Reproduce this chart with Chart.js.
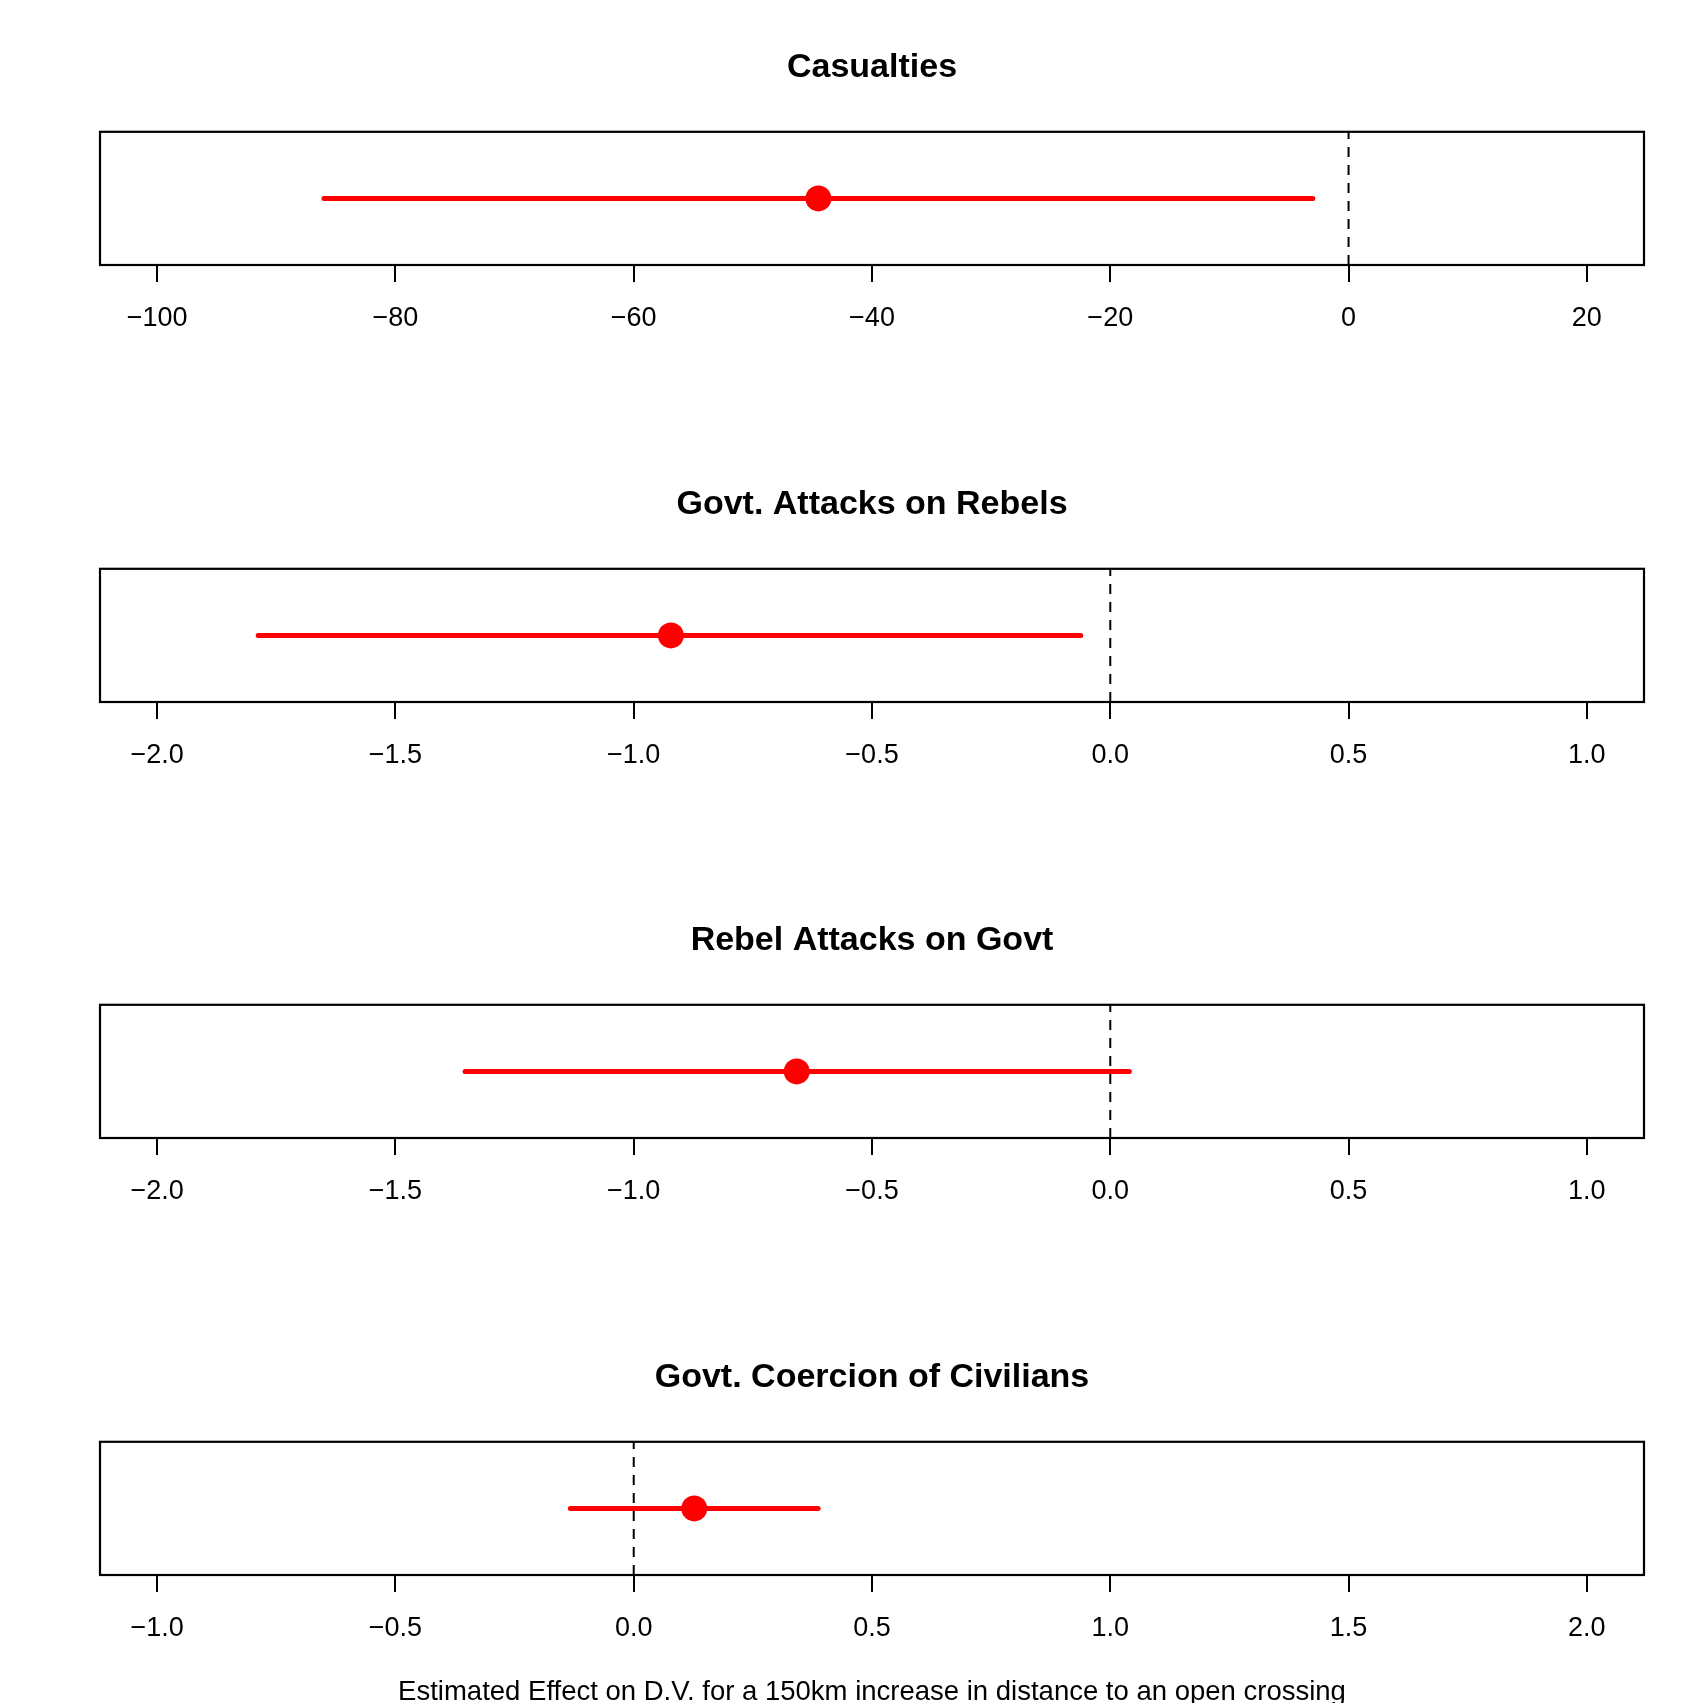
<!DOCTYPE html>
<html>
<head>
<meta charset="utf-8">
<script src="https://cdn.jsdelivr.net/npm/chart.js@4"></script>
<style>
  html, body { margin: 0; padding: 0; background: #fff; overflow: hidden; }
  body { width: 1694px; height: 1703px; position: relative; }
  canvas { position: absolute; left: 0; }
</style>
</head>
<body>
<canvas id="c0" width="1694" height="437" style="top:0px"></canvas>
<canvas id="c1" width="1694" height="437" style="top:437px"></canvas>
<canvas id="c2" width="1694" height="437" style="top:873px"></canvas>
<canvas id="c3" width="1694" height="437" style="top:1310px"></canvas>
<script>
// one panel per outcome
var panelTitles = ['Casualties', 'Govt. Attacks on Rebels', 'Rebel Attacks on Govt', 'Govt. Coercion of Civilians'];
var estimates = [-44.5, -0.922, -0.658, 0.127];
var lowerBounds = [-86.0, -1.788, -1.354, -0.133];
var upperBounds = [-3.0, -0.062, 0.040, 0.387];
var refValues = [0, 0, 0, 0];
var tickValues = [
    [-100, -80, -60, -40, -20, 0, 20],
    [-2.0, -1.5, -1.0, -0.5, 0.0, 0.5, 1.0],
    [-2.0, -1.5, -1.0, -0.5, 0.0, 0.5, 1.0],
    [-1.0, -0.5, 0.0, 0.5, 1.0, 1.5, 2.0]
];
var tickDecimals = [0, 1, 1, 1];
var axisMin = [-104.8, -2.12, -2.12, -1.12];
var axisMax = [24.8, 1.12, 1.12, 2.12];
var xLabel = 'Estimated Effect on D.V. for a 150km increase in distance to an open crossing';

var FONT = "'Liberation Sans', Arial, sans-serif";
var H = 437;
var BOX_BOTTOM = 265;

var boxPlugin = {
    id: 'box',
    afterDatasetsDraw: function (chart) {
        var a = chart.chartArea;
        var ctx = chart.ctx;
        ctx.save();
        ctx.strokeStyle = '#000';
        ctx.lineWidth = 2.2;
        ctx.strokeRect(a.left, a.top, a.right - a.left, a.bottom - a.top);
        ctx.restore();
    }
};

function fmt(v, d) {
    var s = Math.abs(v).toFixed(d);
    return v < -1e-9 ? '\u2212' + s : s;
}

function makePanel(i) {
    var last = (i == panelTitles.length - 1);
    var ctx = document.getElementById('c' + i).getContext('2d');
    return new Chart(ctx, {
        type: 'scatter',
        data: {
            datasets: [{
                type: 'line',
                data: [{x: refValues[i], y: 0}, {x: refValues[i], y: 2}],
                borderColor: '#000',
                borderWidth: 2,
                borderDash: [10, 8],
                pointRadius: 0,
                order: 0
            }, {
                data: [{x: estimates[i], y: 1}],
                backgroundColor: '#ff0000',
                borderWidth: 0,
                pointRadius: 13,
                order: 1
            }, {
                type: 'line',
                data: [{x: lowerBounds[i], y: 1}, {x: upperBounds[i], y: 1}],
                borderColor: '#ff0000',
                borderWidth: 5,
                borderCapStyle: 'round',
                pointRadius: 0,
                order: 2
            }]
        },
        options: {
            responsive: false,
            animation: false,
            layout: { padding: { left: 100, right: 50, top: 0, bottom: 0 } },
            plugins: {
                legend: { display: false },
                tooltip: { enabled: false },
                title: {
                    display: true,
                    text: panelTitles[i],
                    color: '#000',
                    font: { family: FONT, size: 34, weight: 'bold' },
                    padding: { top: 47, bottom: 44 }
                }
            },
            scales: {
                x: {
                    type: 'linear',
                    min: axisMin[i],
                    max: axisMax[i],
                    afterBuildTicks: function (scale) {
                        scale.ticks = tickValues[i].map(function (v) { return {value: v}; });
                    },
                    afterFit: function (scale) {
                        scale.height = H - BOX_BOTTOM;
                    },
                    border: { display: false },
                    grid: {
                        drawOnChartArea: false,
                        drawTicks: true,
                        tickLength: 17,
                        color: '#000',
                        lineWidth: 2
                    },
                    ticks: {
                        color: '#000',
                        padding: 20,
                        maxRotation: 0,
                        autoSkip: false,
                        font: { family: FONT, size: 27 },
                        callback: function (v) { return fmt(v, tickDecimals[i]); }
                    },
                    title: {
                        display: last,
                        text: xLabel,
                        color: '#000',
                        font: { family: FONT, size: 27.5 },
                        padding: { top: 0, bottom: 38 }
                    }
                },
                y: {
                    display: false,
                    min: 0,
                    max: 2
                }
            }
        },
        plugins: [boxPlugin]
    });
}

for (var i = 0; i < panelTitles.length; i++) makePanel(i);
</script>
</body>
</html>
